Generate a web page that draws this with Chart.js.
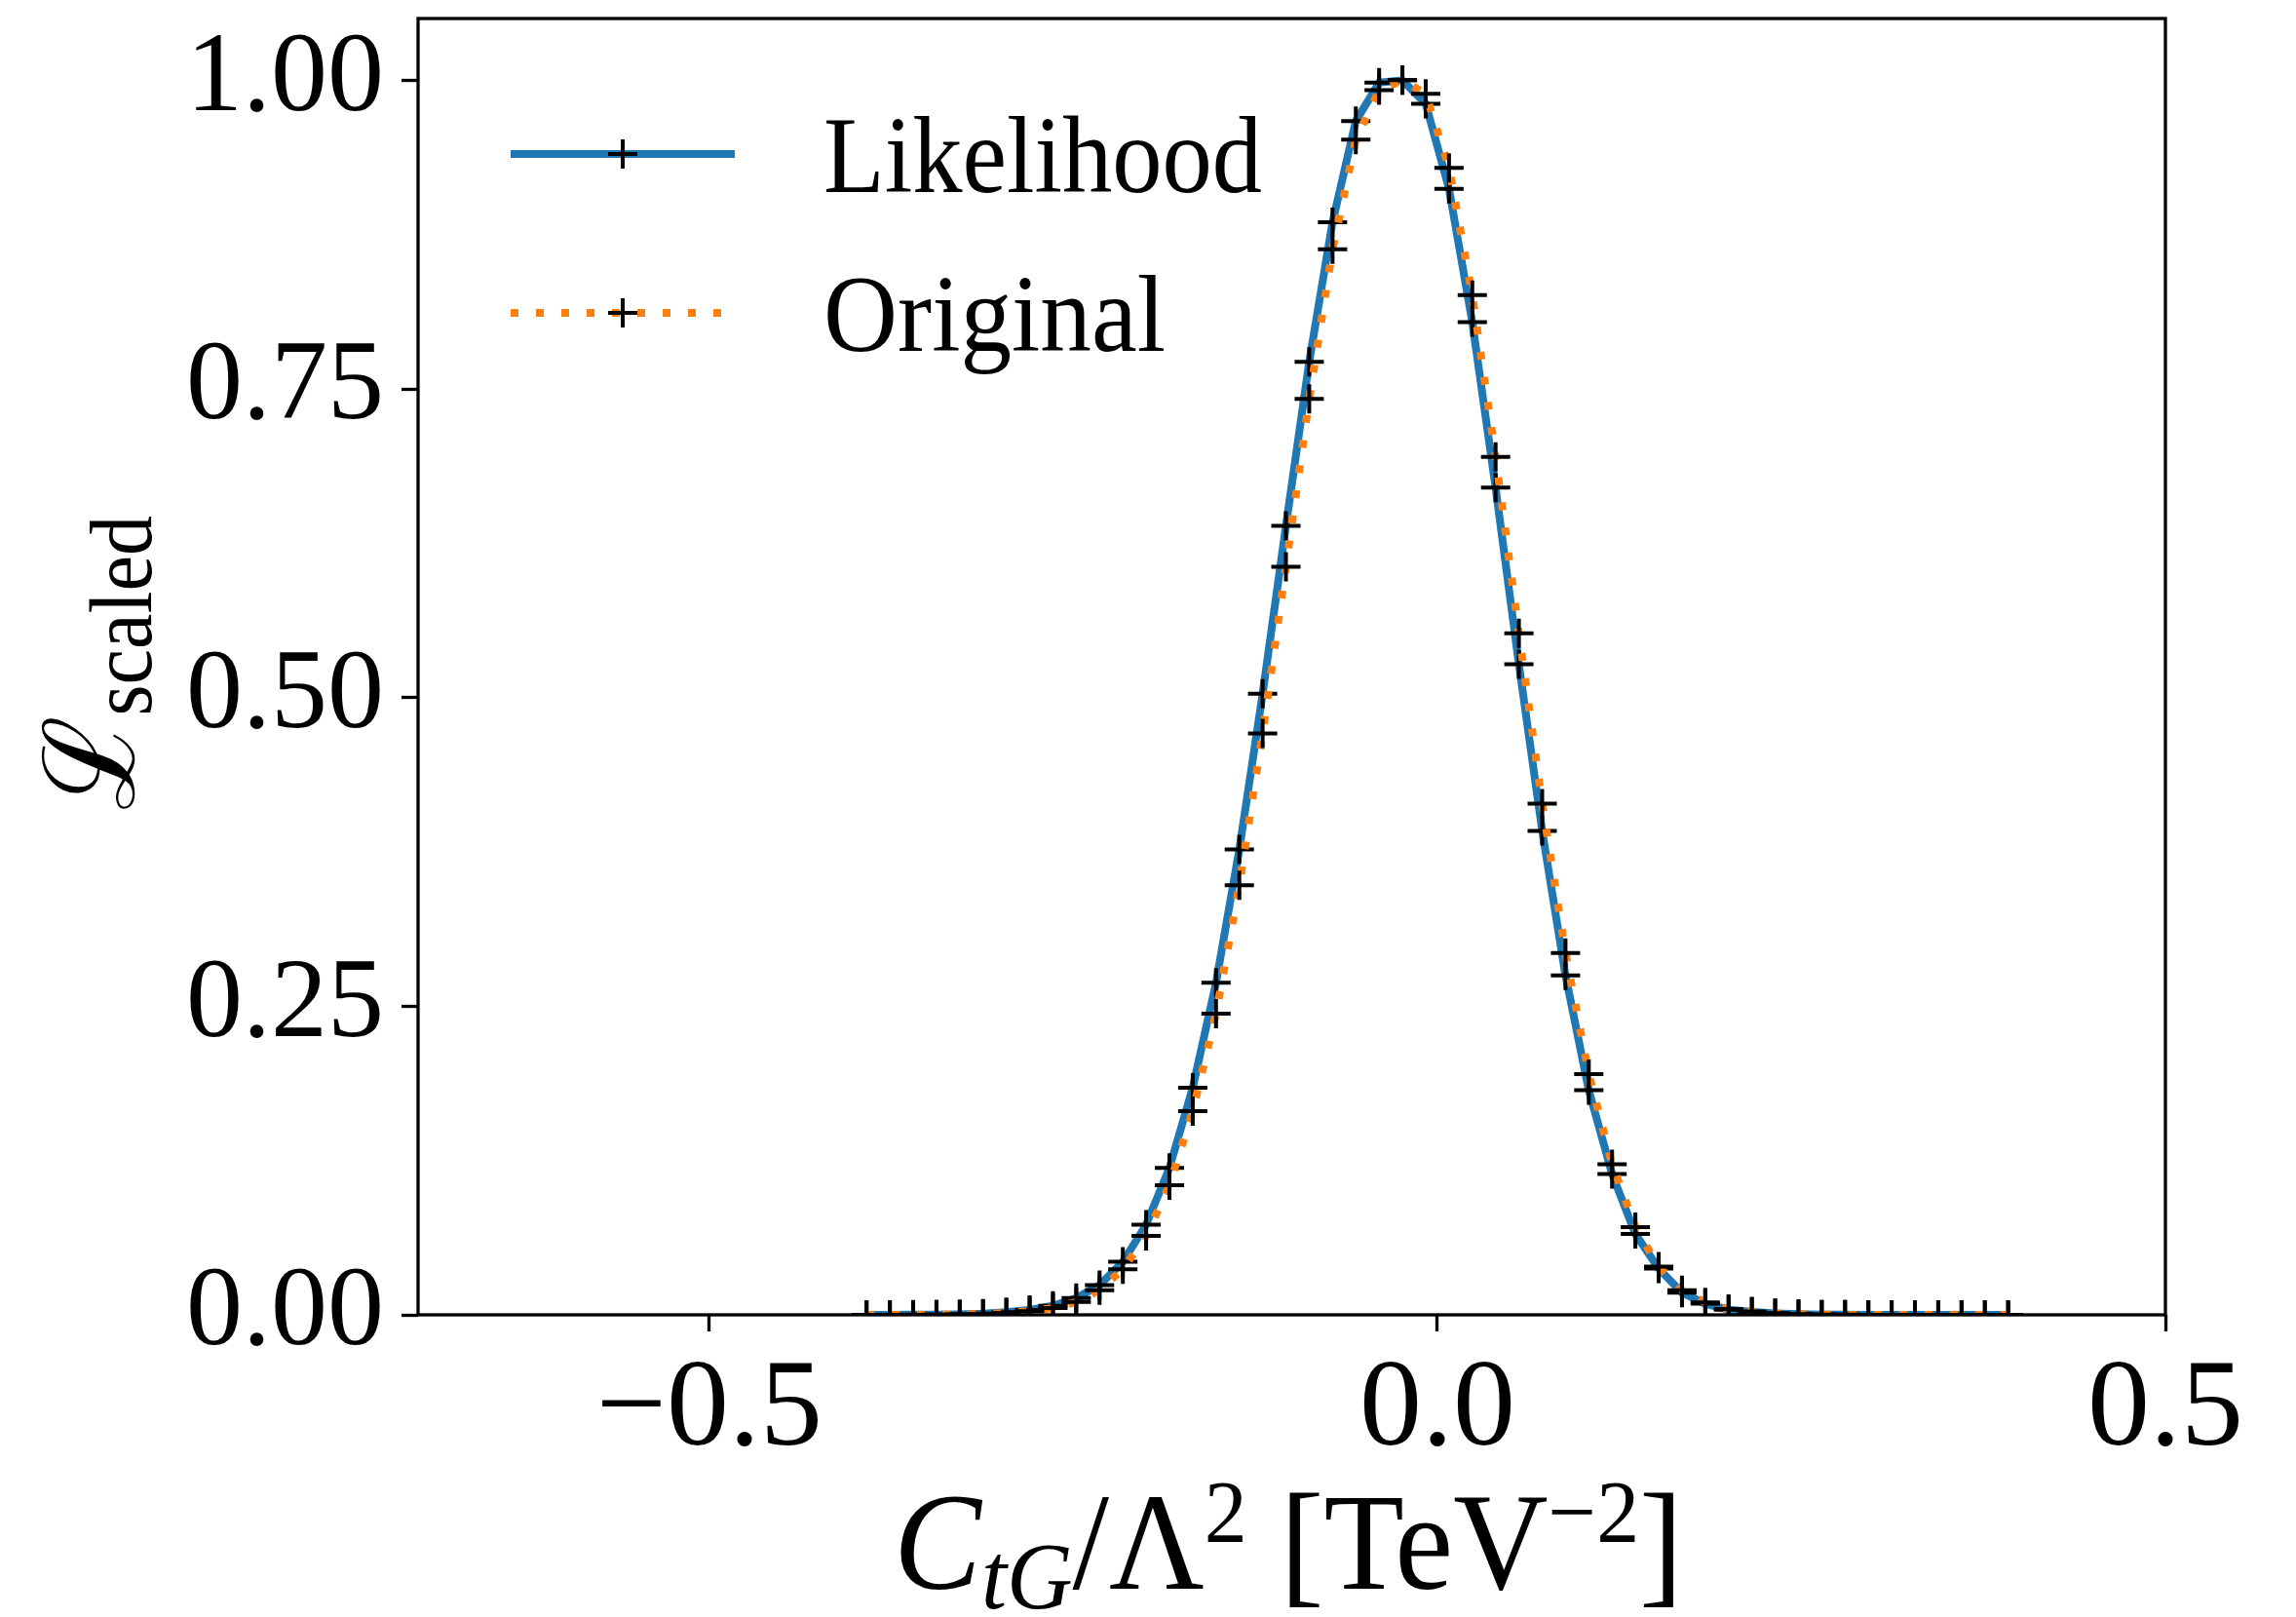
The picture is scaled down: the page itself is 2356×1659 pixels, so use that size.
<!DOCTYPE html>
<html>
<head>
<meta charset="utf-8">
<title>Likelihood scan</title>
<script src="https://cdn.jsdelivr.net/npm/chart.js@4.4.1/dist/chart.umd.min.js"></script>
<style>
  html, body { margin: 0; padding: 0; background: #fff; }
  #wrap { width: 2356px; height: 1659px; position: relative; }
</style>
</head>
<body>
<div id="wrap"><canvas id="chart"></canvas></div>
<script>
// =======================
// Data
const ctgValues = [
  -0.392, -0.376, -0.360, -0.344, -0.328, -0.312, -0.296, -0.280, -0.264, -0.248,
  -0.232, -0.216, -0.200, -0.184, -0.168, -0.152, -0.136, -0.120, -0.104, -0.088,
  -0.072, -0.056, -0.040, -0.024, -0.008, 0.008, 0.024, 0.040, 0.056, 0.072,
  0.088, 0.104, 0.120, 0.136, 0.152, 0.168, 0.184, 0.200, 0.216, 0.232,
  0.248, 0.264, 0.280, 0.296, 0.312, 0.328, 0.344, 0.360, 0.376, 0.392
];
const likelihood = [
  0, 0, 0.0001, 0.0002, 0.0004, 0.0009, 0.0021, 0.0039, 0.0073, 0.0136,
  0.024, 0.043, 0.073, 0.119, 0.184, 0.269, 0.377, 0.503, 0.639, 0.772,
  0.885, 0.967, 0.998, 1.0, 0.981, 0.912, 0.804, 0.670, 0.527, 0.392,
  0.275, 0.182, 0.114, 0.0655, 0.0375, 0.018, 0.009, 0.0042, 0.0024, 0.0012,
  0.0005, 0.0002, 0.0001, 0, 0, 0, 0, 0, 0, 0
];
const original = [
  0, 0, 0, 0.0001, 0.0003, 0.0006, 0.0015, 0.003, 0.0055, 0.0105,
  0.020, 0.037, 0.064, 0.105, 0.165, 0.244, 0.348, 0.471, 0.606, 0.742,
  0.863, 0.952, 0.992, 1.0, 0.989, 0.929, 0.826, 0.695, 0.552, 0.414,
  0.293, 0.195, 0.122, 0.071, 0.039, 0.020, 0.010, 0.0047, 0.0027, 0.0013,
  0.0006, 0.0002, 0.0001, 0, 0, 0, 0, 0, 0, 0
];
const seriesNames = ["Likelihood", "Original"];
const xTickValues = [-0.5, 0.0, 0.5];
const yTickValues = [0, 0.25, 0.5, 0.75, 1.0];

// =======================
// Styles
const SERIF = '"Liberation Serif", "DejaVu Serif", serif';
const BLUE = '#1f77b4';
const ORANGE = '#ff7f0e';
const LINE_W = 8;
const DOTS = [8, 18];
const CROSS_W = 4;

function toPoints(ys) {
  return ctgValues.map((x, i) => ({ x: x, y: ys[i] }));
}

function pieceFont(p) {
  return (p.italic ? 'italic ' : '') + p.size + 'px ' + SERIF;
}

// draws text pieces (with sub/superscripts) from (0,0) along the baseline,
// squeezed horizontally so the whole row is `width` wide
function drawPieces(ctx, pieces, width) {
  let total = 0;
  pieces.forEach(p => {
    ctx.font = pieceFont(p);
    p.w = ctx.measureText(p.text).width;
    total += p.w;
  });
  ctx.save();
  ctx.scale(width / total, 1);
  ctx.fillStyle = '#000';
  ctx.textBaseline = 'alphabetic';
  ctx.textAlign = 'left';
  let x = 0;
  pieces.forEach(p => {
    ctx.font = pieceFont(p);
    ctx.fillText(p.text, x, p.dy || 0);
    x += p.w;
  });
  ctx.restore();
}

function drawCross(ctx, x, y) {
  ctx.save();
  ctx.strokeStyle = '#000';
  ctx.lineWidth = CROSS_W;
  ctx.beginPath();
  ctx.moveTo(x - 15, y); ctx.lineTo(x + 15, y);
  ctx.moveTo(x, y - 15); ctx.lineTo(x, y + 15);
  ctx.stroke();
  ctx.restore();
}

// =======================
// Frame, legend and axis titles
const decorPlugin = {
  id: 'decor',
  afterDatasetsDraw(chart) {
    const ctx = chart.ctx;
    const a = chart.chartArea;
    ctx.save();
    ctx.strokeStyle = '#000';
    ctx.lineWidth = 3.3;
    ctx.strokeRect(a.left, a.top, a.right - a.left, a.bottom - a.top);
    ctx.restore();

    // legend
    const rows = [
      { name: seriesNames[0], color: BLUE, dash: [], y: 158, base: 197, w: 450 },
      { name: seriesNames[1], color: ORANGE, dash: DOTS, y: 321, base: 360, w: 351 }
    ];
    rows.forEach(r => {
      ctx.save();
      ctx.strokeStyle = r.color;
      ctx.lineWidth = LINE_W;
      ctx.setLineDash(r.dash);
      ctx.beginPath();
      ctx.moveTo(524, r.y);
      ctx.lineTo(754, r.y);
      ctx.stroke();
      ctx.restore();
      drawCross(ctx, 639, r.y);
      ctx.save();
      ctx.translate(845, r.base);
      drawPieces(ctx, [{ text: r.name, size: 113 }], r.w);
      ctx.restore();
    });
  },
  afterDraw(chart) {
    const ctx = chart.ctx;
    // x title: C_tG / Λ^2 [TeV^-2]
    ctx.save();
    ctx.translate(917, 1630);
    drawPieces(ctx, [
      { text: 'C', size: 141, italic: true },
      { text: 'tG', size: 98, italic: true, dy: 20 },
      { text: '/', size: 141 },
      { text: '\u039B', size: 141 },
      { text: '2', size: 92, dy: -48 },
      { text: ' [TeV', size: 141 },
      { text: '\u22122', size: 92, dy: -48 },
      { text: ']', size: 141 }
    ], 810);
    ctx.restore();

    // y title: L_scaled
    ctx.save();
    ctx.translate(137, 831);
    ctx.rotate(-Math.PI / 2);
    drawPieces(ctx, [
      { text: '\u2112', size: 130 },
      { text: 'scaled', size: 92, dy: 18 }
    ], 302);
    ctx.restore();
  }
};

// =======================
// Chart
const lineCommon = {
  borderWidth: LINE_W,
  pointStyle: 'cross',
  pointRadius: 15,
  pointHoverRadius: 15,
  pointBorderColor: '#000',
  pointBackgroundColor: '#000',
  pointBorderWidth: CROSS_W,
  tension: 0,
  fill: false,
  clip: 0
};

new Chart(document.getElementById('chart'), {
  type: 'line',
  data: {
    datasets: [
      Object.assign({ label: seriesNames[0], data: toPoints(likelihood), borderColor: BLUE, order: 2 }, lineCommon),
      Object.assign({ label: seriesNames[1], data: toPoints(original), borderColor: ORANGE, borderDash: DOTS, order: 1 }, lineCommon)
    ]
  },
  options: {
    responsive: true,
    maintainAspectRatio: false,
    devicePixelRatio: 1,
    animation: false,
    events: [],
    layout: { padding: { left: 0, top: 13, right: 134, bottom: 0 } },
    plugins: { legend: { display: false }, tooltip: { enabled: false } },
    scales: {
      x: {
        type: 'linear',
        min: -0.7,
        max: 0.5,
        afterBuildTicks: s => { s.ticks = xTickValues.map(v => ({ value: v })); },
        afterFit: s => { s.height = 310; s.paddingLeft = 0; s.paddingRight = 0; },
        border: { display: false },
        grid: { display: true, drawOnChartArea: false, drawTicks: true, tickLength: 17, tickWidth: 3.3, tickColor: '#000' },
        ticks: {
          color: '#000',
          font: { family: SERIF, size: 128 },
          padding: 6,
          maxRotation: 0,
          autoSkip: false,
          callback: v => (v < 0 ? '\u2212' : '') + Math.abs(v).toFixed(1)
        }
      },
      y: {
        type: 'linear',
        min: 0,
        max: 1.05,
        afterBuildTicks: s => { s.ticks = yTickValues.map(v => ({ value: v })); },
        afterFit: s => { s.width = 429; s.paddingTop = 0; s.paddingBottom = 0; },
        border: { display: false },
        grid: { display: true, drawOnChartArea: false, drawTicks: true, tickLength: 17, tickWidth: 3.3, tickColor: '#000' },
        ticks: {
          color: '#000',
          font: { family: SERIF, size: 116 },
          padding: 18,
          autoSkip: false,
          callback: v => v.toFixed(2)
        }
      }
    }
  },
  plugins: [decorPlugin]
});
</script>
</body>
</html>
